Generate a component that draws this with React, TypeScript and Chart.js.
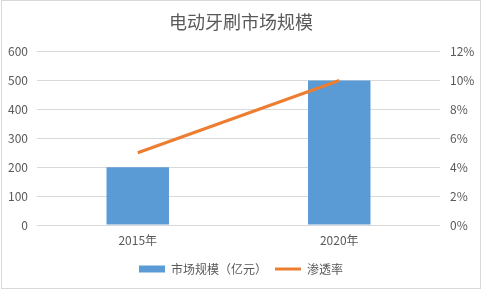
import React, { useEffect, useRef } from "react";
import { Chart, registerables } from "chart.js";

Chart.register(...registerables);

const categories = ["2015年", "2020年"];
const marketSize = [200, 500];
const penetration = [5, 10];
const titleText = "电动牙刷市场规模";
const barLabel = "市场规模（亿元）";
const lineLabel = "渗透率";

const FONT = "'Noto Sans CJK SC', 'Microsoft YaHei', sans-serif";
const TEXT = "#595959";

export default function App() {
  const ref = useRef<HTMLCanvasElement | null>(null);

  useEffect(() => {
    document.body.style.margin = "0";
    const canvas = ref.current;
    if (!canvas) return;
    const chart = new Chart(canvas, {
      data: {
        labels: categories,
        datasets: [
          {
            type: "line",
            label: lineLabel,
            data: penetration,
            yAxisID: "y1",
            borderColor: "#ED7D31",
            backgroundColor: "#ED7D31",
            borderWidth: 3,
            pointRadius: 0,
            order: 0,
          },
          {
            type: "bar",
            label: barLabel,
            data: marketSize,
            yAxisID: "y",
            backgroundColor: "#5B9BD5",
            borderWidth: 0,
            barPercentage: 0.31,
            categoryPercentage: 1,
            order: 1,
          },
        ],
      },
      options: {
        animation: false,
        responsive: false,
        maintainAspectRatio: false,
        layout: { padding: { top: 0, bottom: 5, left: 0, right: 0 } },
        plugins: {
          title: {
            display: true,
            text: titleText,
            color: TEXT,
            font: { family: FONT, size: 18, weight: "normal" },
            padding: { top: 11, bottom: 19 },
          },
          legend: {
            position: "bottom",
            labels: {
              color: TEXT,
              font: { family: FONT, size: 12 },
              usePointStyle: true,
              pointStyleWidth: 26,
              boxHeight: 7,
              padding: 8,
              sort: (a: any, b: any) => b.datasetIndex - a.datasetIndex,
              generateLabels: (ch: any) => {
                const items = Chart.defaults.plugins.legend.labels.generateLabels(ch);
                return items.map((it: any) => {
                  const ds = ch.data.datasets[it.datasetIndex];
                  if (ds.type === "line") {
                    return { ...it, pointStyle: "line", lineWidth: 3, strokeStyle: "#ED7D31" };
                  }
                  return { ...it, pointStyle: "rect", lineWidth: 0, fillStyle: "#5B9BD5" };
                });
              },
            },
          },
          tooltip: { enabled: false },
        },
        scales: {
          x: {
            grid: { display: false, drawTicks: false },
            border: { display: false },
            ticks: { color: TEXT, font: { family: FONT, size: 12 }, padding: 8 },
            afterFit: (s: any) => { s.height = 30; },
          },
          y: {
            position: "left",
            min: 0,
            max: 600,
            ticks: { stepSize: 100, color: TEXT, font: { family: FONT, size: 12 }, padding: 9 },
            grid: { color: "#d9d9d9", drawTicks: false },
            border: { display: false },
            afterFit: (s: any) => { s.width = 37; },
          },
          y1: {
            position: "right",
            min: 0,
            max: 12,
            ticks: {
              stepSize: 2,
              color: TEXT,
              font: { family: FONT, size: 12 },
              padding: 10,
              callback: (v: any) => `${v}%`,
            },
            grid: { display: false, drawTicks: false },
            border: { display: false },
            afterFit: (s: any) => { s.width = 42; },
          },
        },
      },
    } as any);
    return () => chart.destroy();
  }, []);

  return (
    <div style={{ position: "relative", width: 482, height: 290 }}>
      <canvas ref={ref} width={482} height={290} style={{ display: "block" }} />
      <div
        style={{
          position: "absolute",
          left: 1,
          top: 0,
          width: 478,
          height: 287,
          border: "1px solid #d9d9d9",
          pointerEvents: "none",
        }}
      />
    </div>
  );
}
